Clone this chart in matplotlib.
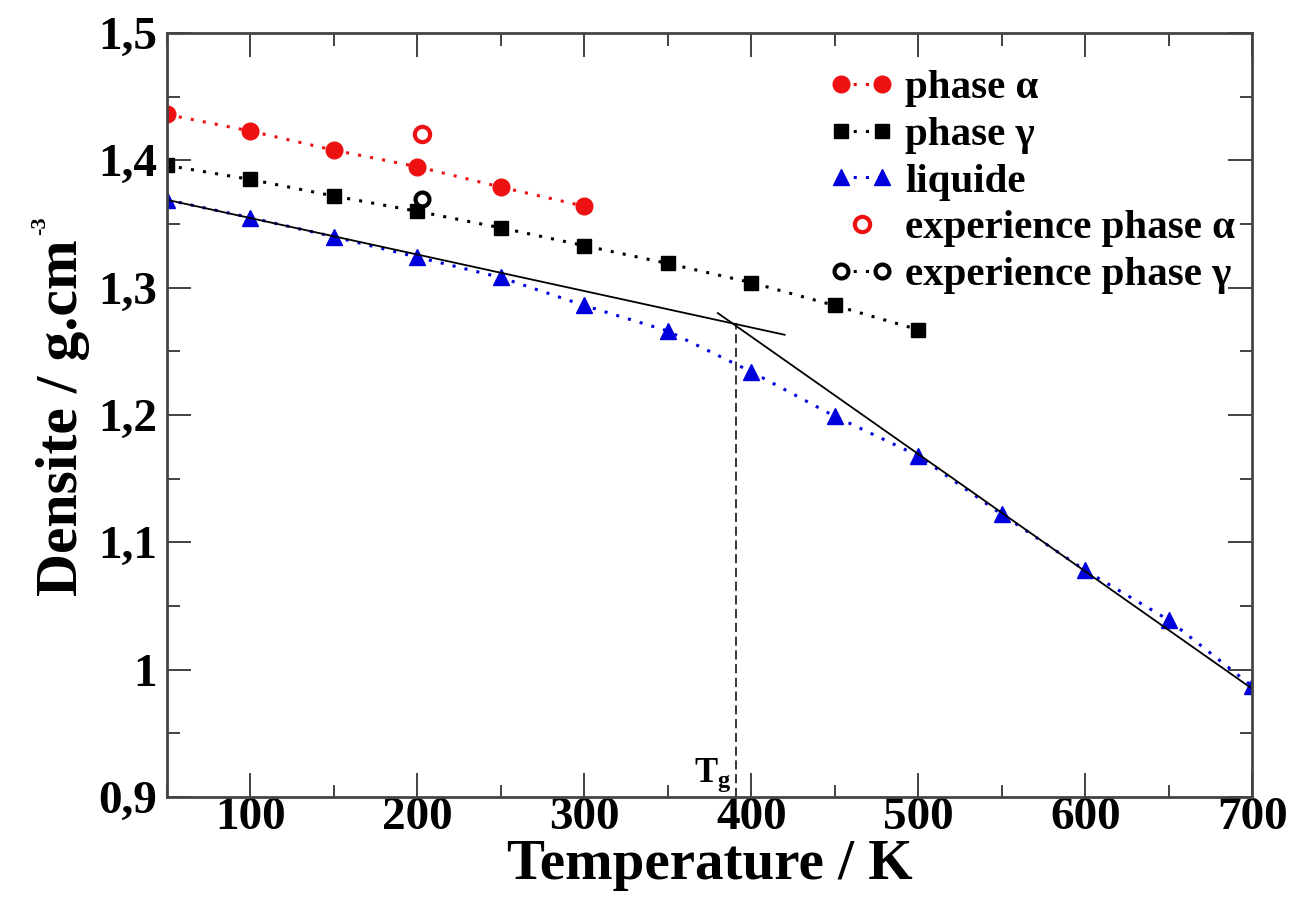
import matplotlib
matplotlib.use("Agg")
import matplotlib.pyplot as plt
from matplotlib.legend_handler import HandlerLine2D
from matplotlib.ticker import MultipleLocator, FixedLocator

plt.rcParams['font.family'] = ['Liberation Serif', 'DejaVu Serif']
plt.rcParams['font.weight'] = 'bold'
plt.rcParams['mathtext.fontset'] = 'custom'
plt.rcParams['mathtext.rm'] = 'Liberation Serif:bold'
plt.rcParams['mathtext.bf'] = 'Liberation Serif:bold'
plt.rcParams['mathtext.it'] = 'Liberation Serif:bold'

# ---- data ----
T_alpha = [50, 100, 150, 200, 250, 300]
rho_alpha = [1.436, 1.423, 1.408, 1.395, 1.379, 1.364]

T_gamma = [50, 100, 150, 200, 250, 300, 350, 400, 450, 500]
rho_gamma = [1.396, 1.385, 1.372, 1.360, 1.347, 1.333, 1.319, 1.304, 1.286, 1.267]

T_liq = [50, 100, 150, 200, 250, 300, 350, 400, 450, 500, 550, 600, 650, 700]
rho_liq = [1.369, 1.355, 1.340, 1.324, 1.308, 1.286, 1.266, 1.234, 1.199, 1.168,
           1.122, 1.078, 1.039, 0.987]

T_exp_alpha = [203]
rho_exp_alpha = [1.421]
T_exp_gamma = [203]
rho_exp_gamma = [1.370]

# linear fits (glass / liquid branches)
T_fit_glass = [50, 420]
rho_fit_glass = [1.369, 1.263]
T_fit_liq = [380, 700]
rho_fit_liq = [1.280, 0.985]

Tg = 391
rho_Tg = 1.272

xticks = [100, 200, 300, 400, 500, 600, 700]
yticks = [0.9, 1.0, 1.1, 1.2, 1.3, 1.4, 1.5]
ytick_labels = ['0,9', '1', '1,1', '1,2', '1,3', '1,4', '1,5']

DOT = (0, (1, 3))

fig = plt.figure(figsize=(13.03, 9.01), dpi=100)
ax = fig.add_axes([0.128, 0.1154, 0.833, 0.848])

l_a, = ax.plot(T_alpha, rho_alpha, color='#ee1111', ls=DOT, lw=2.2, marker='o',
               ms=12, label='phase α')
l_g, = ax.plot(T_gamma, rho_gamma, color='black', ls=DOT, lw=2.2, marker='s',
               ms=10, label='phase γ')
l_l, = ax.plot(T_liq, rho_liq, color='#0000dd', ls=DOT, lw=2.2, marker='^',
               ms=11, label='liquide')
l_ea, = ax.plot(T_exp_alpha, rho_exp_alpha, ls='none', marker='o', ms=11,
                mfc='white', mec='#ee1111', mew=3, label='experience phase α')
l_eg, = ax.plot(T_exp_gamma, rho_exp_gamma, color='black', ls=DOT, lw=2.2,
                marker='o', ms=10, mfc='white', mec='black', mew=3,
                label='experience phase γ')

ax.plot(T_fit_glass, rho_fit_glass, color='black', lw=1.3)
ax.plot(T_fit_liq, rho_fit_liq, color='black', lw=1.3)
ax.plot([Tg, Tg], [0.9, rho_Tg], color='black', lw=1.1, ls=(0, (6, 3)))
ax.text(Tg - 3, 0.9025, r'$\mathrm{T_g}$', ha='right', va='bottom', fontsize=25)

ax.set_xlim(50, 700)
ax.set_ylim(0.9, 1.5)
ax.xaxis.set_major_locator(FixedLocator(xticks))
ax.xaxis.set_minor_locator(MultipleLocator(50))
ax.yaxis.set_major_locator(FixedLocator(yticks))
ax.set_yticklabels(ytick_labels)
ax.yaxis.set_minor_locator(MultipleLocator(0.05))
ax.tick_params(which='both', direction='in', top=True, right=True,
               width=1.3, color='#333333')
ax.tick_params(which='major', length=17, labelsize=34)
ax.tick_params(axis='x', which='major', pad=0)
ax.tick_params(axis='y', which='major', pad=7)
ax.tick_params(which='minor', length=9)
for lab in ax.get_xticklabels() + ax.get_yticklabels():
    lab.set_fontweight('bold')
for s in ax.spines.values():
    s.set_linewidth(2)
    s.set_color('#444444')

ax.set_xlabel('Temperature / K', fontsize=41, fontweight='bold')
ax.xaxis.set_label_coords(0.5005, -0.055)
ax.set_ylabel('Densite / g.cm', fontsize=43, fontweight='bold')
ax.yaxis.set_label_coords(-0.071, 0.497)
fig.text(40 / 1303, 1 - 226 / 901, '-3', rotation=90, fontsize=16,
         fontweight='bold', ha='center', va='center')

leg = ax.legend(handles=[l_a, l_g, l_l, l_ea, l_eg], loc='upper left',
                bbox_to_anchor=(0.610, 0.952), borderaxespad=0, borderpad=0,
                frameon=False, fontsize=29.5,
                numpoints=2, handlelength=1.6, handletextpad=0.26,
                labelspacing=0.22,
                handler_map={l_ea: HandlerLine2D(numpoints=1)})
for t in leg.get_texts():
    t.set_fontweight('bold')

fig.savefig('out.png', dpi=100)
